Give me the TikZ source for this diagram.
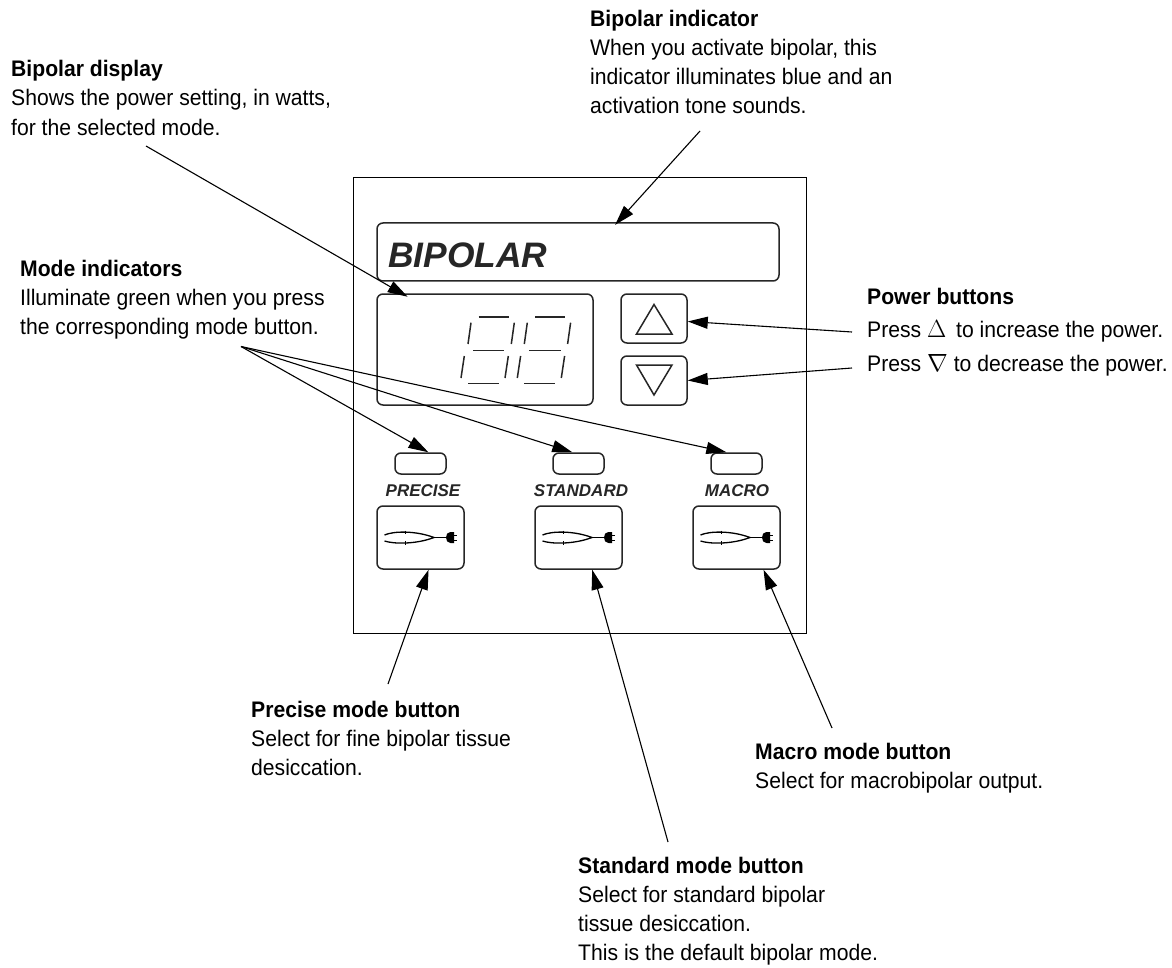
\documentclass[tikz,border=0pt]{standalone}
\usepackage{fontspec}
\usetikzlibrary{arrows.meta}
\setmainfont[FakeStretch=0.94]{Liberation Sans}
\newfontfamily\panelfont{Liberation Sans}
\begin{document}
\begin{tikzpicture}[x=1pt,y=-1pt]
			\tikzset{callout/.style = {anchor=north west,inner sep=0pt,align=left,
					font=\fontsize{22.5}{29.3}\selectfont}}
			\tikzset{box/.style = {shape=rectangle,draw=black!85,line width=1.5pt,rounded corners=6pt,inner sep=0pt}}
			\tikzset{powerbutton/.style = {box,minimum width=66pt,minimum height=49pt}}
			\tikzset{modebutton/.style = {box,minimum width=87pt,minimum height=63pt}}
			\tikzset{led/.style = {box,minimum width=51pt,minimum height=21pt}}
			\tikzset{modename/.style = {inner sep=0pt,text=black!85,font=\panelfont\fontsize{17}{17}\selectfont\bfseries\itshape}}
			\tikzset{edge/.style = {-{Triangle[length=20pt,width=12pt]},line width=1.1pt}}
			\tikzset{segment/.style = {line width=1.5pt,draw=black!85}}
			\tikzset{symbol/.style = {line width=1.5pt,draw=black!85,line join=miter}}
			\tikzset{forceps/.pic = {
					\draw[line width=1.3pt] (-36,-2.5) .. controls (-27,-6.5) and (-5,-7) .. (13.5,0)
						.. controls (-5,7) and (-27,6.5) .. (-36,3.5);
					\draw[line width=.9pt] (-15.5,-7) -- (-15.5,-3.5) (-15.5,3.5) -- (-15.5,7);
					\draw[line width=1.3pt] (13.5,0) -- (26,0);
					\fill[black] (33.5,-5.5) -- (30,-5.5) .. controls (27,-5.5) and (25.5,-3) .. (25.5,0)
						.. controls (25.5,3) and (27,5.5) .. (30,5.5) -- (33.5,5.5) -- cycle;
					\draw[line width=1pt] (33,-2.5) -- (36,-2.5) (33,2.5) -- (36,2.5);
			}}
			\useasboundingbox (0,0) rectangle (1172,968);
			% panel
			\node[draw,line width=1pt,minimum width=453pt,minimum height=455pt,inner sep=0pt] (panel) at (579.5,405.5) {};
			\node[box,minimum width=402pt,minimum height=58pt] (indicator) at (578,252) {};
			\node[inner sep=0pt,anchor=base west,text=black!85,font=\panelfont\fontsize{35.4}{35.4}\selectfont\bfseries\itshape] (indicatorname) at (388,268) {BIPOLAR};
			\node[box,minimum width=216pt,minimum height=111pt] (display) at (485,349.5) {};
			\node[powerbutton] (up) at (654,318.5) {};
			\node[powerbutton] (down) at (654,380.5) {};
			\node[led] (ledprecise) at (420.5,463.5) {};
			\node[led] (ledstandard) at (578.5,463.5) {};
			\node[led] (ledmacro) at (736.5,463.5) {};
			\node[modename] (nameprecise) at (423,491) {PRECISE};
			\node[modename] (namestandard) at (581,491) {STANDARD};
			\node[modename] (namemacro) at (737,491) {MACRO};
			\node[modebutton] (precise) at (420.5,537.5) {};
			\node[modebutton] (standard) at (578.5,537.5) {};
			\node[modebutton] (macro) at (736.5,537.5) {};
			\pic at (precise) {forceps};
			\pic at (standard) {forceps};
			\pic at (macro) {forceps};
			% digits
			\draw[segment] (478.7,317) -- (508.7,317);
			\draw[segment] (471,322.7) -- (468,344);
			\draw[segment] (514.3,322.7) -- (511.3,344);
			\draw[segment] (473,350.3) -- (504.3,350.3);
			\draw[segment] (464.3,356) -- (461,378);
			\draw[segment] (508.3,356) -- (505,378);
			\draw[segment] (468,383.3) -- (498.7,383.3);
			\draw[segment] (535,317) -- (565,317);
			\draw[segment] (527.3,322.7) -- (524.3,344);
			\draw[segment] (570.6,322.7) -- (567.6,344);
			\draw[segment] (529.3,350.3) -- (560.6,350.3);
			\draw[segment] (520.6,356) -- (517.3,378);
			\draw[segment] (564.6,356) -- (561.3,378);
			\draw[segment] (524.3,383.3) -- (555,383.3);
			% triangles
			\draw[symbol] (654,304.5) -- (672,334) -- (636.5,334) -- cycle;
			\draw[symbol] (654,395) -- (672,365) -- (636.5,365) -- cycle;
			% labels
			\node[callout] (textindicator) at (590,9.5) {\textbf{Bipolar indicator}\\When you activate bipolar, this\\indicator illuminates blue and an\\activation tone sounds.};
			\node[callout] (textdisplay) at (11,60) {\textbf{Bipolar display}\\Shows the power setting, in watts,\\for the selected mode.};
			\node[callout] (textmodes) at (20,259.5) {\textbf{Mode indicators}\\Illuminate green when you press\\the corresponding mode button.};
			\node[callout] (textpower) at (867,287.5) {\textbf{Power buttons}};
			\node[callout] (textup) at (867,320) {Press {\fontsize{23}{23}\selectfont$\Delta$}\hspace{4pt} to increase the power.};
			\node[callout] (textdown) at (867,354.5) {Press {\fontsize{27}{27}\selectfont$\nabla$} to decrease the power.};
			\node[callout] (textprecise) at (251,700.5) {\textbf{Precise mode button}\\Select for fine bipolar tissue\\desiccation.};
			\node[callout] (textmacro) at (755,742.5) {\textbf{Macro mode button}\\Select for macrobipolar output.};
			\node[callout] (textstandard) at (578,856.5) {\textbf{Standard mode button}\\Select for standard bipolar\\tissue desiccation.\\This is the default bipolar mode.};
			% free ends
			\coordinate (fromindicator) at (700,131);
			\coordinate (fromdisplay) at (146,146);
			\coordinate (frommodes) at (241,346.5);
			\coordinate (fromup) at (852,332);
			\coordinate (fromdown) at (852,368);
			\coordinate (fromprecise) at (388,684);
			\coordinate (fromstandard) at (668,842);
			\coordinate (frommacro) at (832,728);
			%edges
			\draw[edge,shorten >=-3.5pt] (fromindicator) to (indicator.37);
			\draw[edge,shorten >=-7pt] (fromdisplay) to (display.146.4);
			\draw[edge] (frommodes) to (ledprecise.55);
			\draw[edge] (frommodes) to (ledstandard.119);
			\draw[edge] (frommodes) to (ledmacro.132);
			\draw[edge] (fromup) to (up.355.5);
			\draw[edge] (fromdown) to (down.east);
			\draw[edge] (fromprecise) to (precise.-76.6);
			\draw[edge] (fromstandard) to (standard.-67);
			\draw[edge] (frommacro) to (macro.-50.5);
			\end{tikzpicture}
\end{document}
